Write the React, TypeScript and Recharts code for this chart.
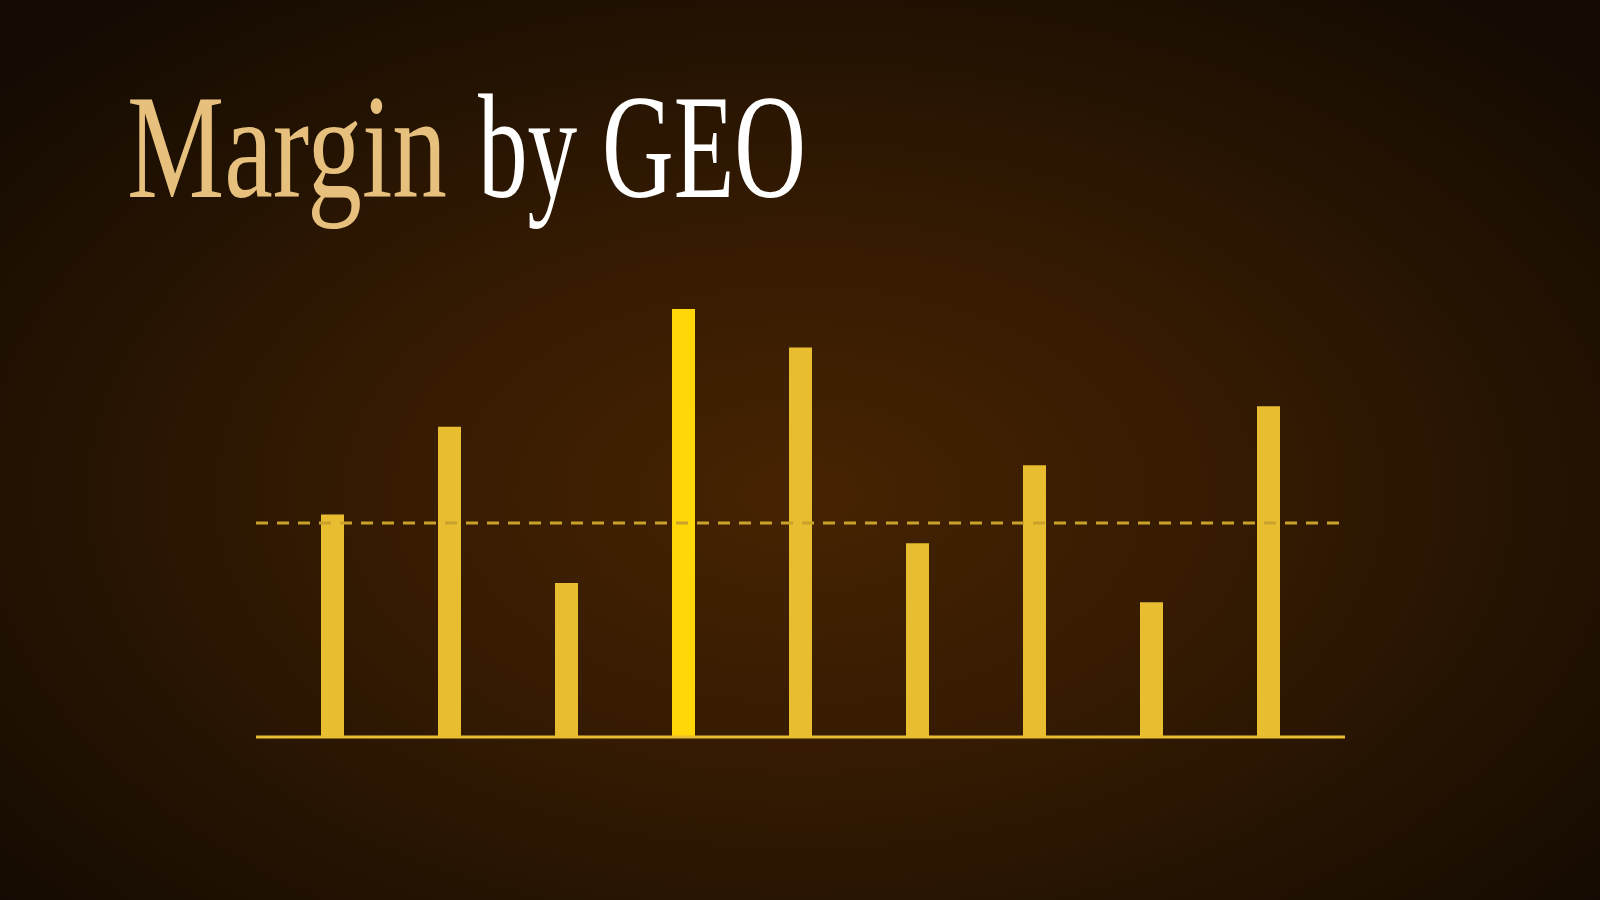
import React from "react";
import { BarChart, Bar, XAxis, YAxis, ReferenceLine, Cell } from "recharts";

// margin % by geography (labels are not shown on the slide)
const geos = ["NA", "LATAM", "UK", "DACH", "France", "Nordics", "MEA", "India", "APAC"];
const margins = [20.8, 29.0, 14.4, 40.0, 36.4, 18.1, 25.4, 12.6, 30.9];
const target = 20;
const highlight = "DACH";

const data = geos.map((geo, i) => ({ geo, margin: margins[i] }));

const titleFont = "Liberation Serif, Tinos, Times New Roman, Times, serif";

// condensed serif look: squeeze horizontally
function Word({ x, text, fill, width, sx }) {
  return (
    <g transform={`translate(${x},197) scale(${sx},1)`}>
      <text
        x={0}
        y={0}
        fontFamily={titleFont}
        fontSize={148}
        fill={fill}
        textLength={width / sx}
        lengthAdjust="spacingAndGlyphs"
      >
        {text}
      </text>
    </g>
  );
}

function Title() {
  return (
    <svg width={1600} height={260} style={{ position: "absolute", left: 0, top: 0 }}>
      <Word x={127} text="Margin" fill="#E6C07C" width={320} sx={0.74} />
      <Word x={478} text="by GEO" fill="#FFFFFF" width={328} sx={0.67} />
    </svg>
  );
}

export default function App() {
  return (
    <div
      style={{
        position: "fixed",
        left: 0,
        top: 0,
        width: 1600,
        height: 900,
        overflow: "hidden",
        background:
          "radial-gradient(ellipse 65% 70% at 50% 55%, #462302 0%, #361b02 40%, #221202 75%, #150b02 100%)",
      }}
    >
      <Title />
      <div style={{ position: "absolute", left: 0, top: 0 }}>
        <BarChart
          width={1600}
          height={900}
          data={data}
          margin={{ top: 309, right: 255, bottom: 163, left: 256 }}
        >
          <XAxis dataKey="geo" hide padding={{ left: 18, right: 18 }} />
          <YAxis hide domain={[0, 40]} />
          <Bar dataKey="margin" barSize={23} isAnimationActive={false}>
            {data.map((d) => (
              <Cell key={d.geo} fill={d.geo === highlight ? "#FFD708" : "#E8BE30"} />
            ))}
          </Bar>
          <ReferenceLine y={0} stroke="#E8BE30" strokeWidth={3} />
          <ReferenceLine y={target} stroke="#C9A22C" strokeWidth={3} strokeDasharray="12 9" />
        </BarChart>
      </div>
    </div>
  );
}
